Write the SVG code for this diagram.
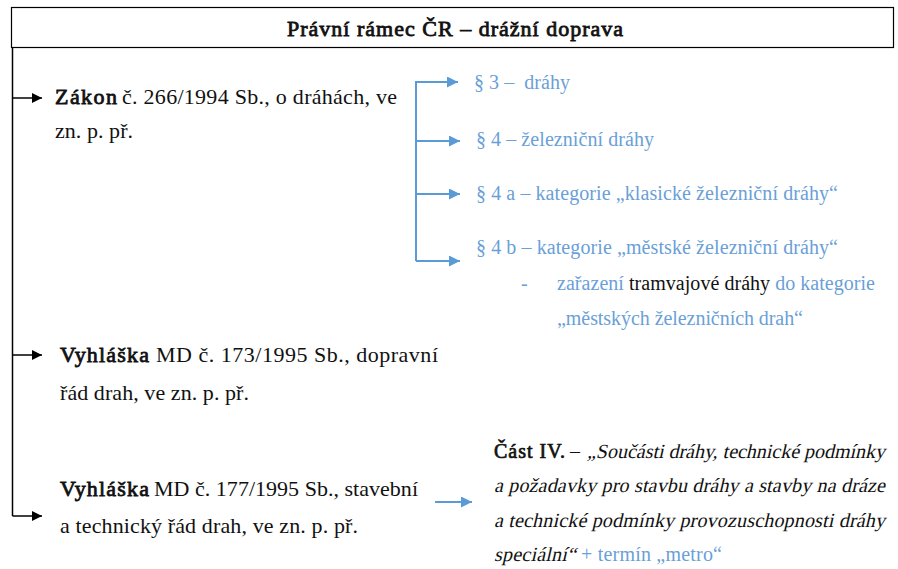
<svg xmlns="http://www.w3.org/2000/svg" width="898" height="569" viewBox="0 0 898 569">
<defs>
  <marker id="ab" viewBox="0 0 10 10" refX="10" refY="5" markerWidth="13" markerHeight="10" markerUnits="userSpaceOnUse" orient="auto">
    <path d="M0,0 L10,5 L0,10 z" fill="#000"/>
  </marker>
  <marker id="au" viewBox="0 0 10 10" refX="10" refY="5" markerWidth="14" markerHeight="11" markerUnits="userSpaceOnUse" orient="auto">
    <path d="M0,0 L10,5 L0,10 z" fill="#5b9bd5"/>
  </marker>
</defs>
<rect width="898" height="569" fill="#fff"/>

<g id="title">
  <rect x="11.5" y="7.5" width="882" height="40" fill="#fff" stroke="#000" stroke-width="1.2"/>
  <text x="455" y="36" text-anchor="middle" font-family="Liberation Serif, serif" font-size="22" fill="#111" stroke="#111" stroke-width="0.8" textLength="336">Právní rámec ČR – drážní doprava</text>
</g>

<g id="connectors" fill="none">
  <g stroke="#000" stroke-width="1.5">
    <path d="M12.5,48 V516"/>
    <path d="M12.5,98 H42" marker-end="url(#ab)"/>
    <path d="M12.5,355 H42" marker-end="url(#ab)"/>
    <path d="M12.5,516 H42" marker-end="url(#ab)"/>
  </g>
  <g stroke="#5b9bd5" stroke-width="2">
    <path d="M416,261 V82 H458" marker-end="url(#au)"/>
    <path d="M416,141 H460" marker-end="url(#au)"/>
    <path d="M416,194 H460" marker-end="url(#au)"/>
    <path d="M416,261 H460" marker-end="url(#au)"/>
    <path d="M435,502 H472" marker-end="url(#au)"/>
  </g>
</g>

<g id="zakon" font-family="Liberation Serif, serif" font-size="22" fill="#111">
  <text x="55" y="104" textLength="62" stroke="#111" stroke-width="0.8">Zákon</text>
  <text x="122" y="104" textLength="275">č. 266/1994 Sb., o dráhách, ve</text>
  <text x="55" y="138" textLength="78">zn. p. př.</text>
</g>

<g id="paragraphs" font-family="Liberation Serif, serif" font-size="20" fill="#6a9fd8">
  <g id="par3"><text x="474" y="89" xml:space="preserve" textLength="96">§ 3 –  dráhy</text></g>
  <g id="par4"><text x="476" y="146" textLength="178">§ 4 – železniční dráhy</text></g>
  <g id="par4a"><text x="476" y="200" textLength="362">§ 4 a – kategorie „klasické železniční dráhy“</text></g>
  <g id="par4b">
    <text x="476" y="254" textLength="362">§ 4 b – kategorie „městské železniční dráhy“</text>
    <text x="521" y="290">-</text>
    <text x="557" y="290" textLength="318">zařazení <tspan fill="#111">tramvajové dráhy</tspan> do kategorie</text>
    <text x="557" y="325" textLength="246">„městských železničních drah“</text>
  </g>
</g>

<g id="vyhlaska173" font-family="Liberation Serif, serif" font-size="22" fill="#111">
  <text x="60" y="362" textLength="89" stroke="#111" stroke-width="0.8">Vyhláška</text>
  <text x="156" y="362" textLength="282">MD č. 173/1995 Sb., dopravní</text>
  <text x="60" y="400" textLength="189">řád drah, ve zn. p. př.</text>
</g>

<g id="vyhlaska177" font-family="Liberation Serif, serif" font-size="22" fill="#111">
  <text x="60" y="496" textLength="89" stroke="#111" stroke-width="0.8">Vyhláška</text>
  <text x="154" y="496" textLength="264">MD č. 177/1995 Sb., stavební</text>
  <text x="60" y="533" textLength="298">a technický řád drah, ve zn. p. př.</text>
</g>

<g id="cast4" font-family="Liberation Serif, serif" font-size="20" fill="#111">
  <text x="494" y="458" textLength="71" stroke="#111" stroke-width="0.7">Část IV.</text>
  <text x="570" y="458">–</text>
  <text transform="translate(587,458) skewX(-13)" x="0" y="0" textLength="298">„Součásti dráhy, technické podmínky</text>
  <text transform="translate(494,492) skewX(-13)" x="0" y="0" textLength="391">a požadavky pro stavbu dráhy a stavby na dráze</text>
  <text transform="translate(494,527) skewX(-13)" x="0" y="0" textLength="391">a technické podmínky provozuschopnosti dráhy</text>
  <text transform="translate(494,561) skewX(-13)" x="0" y="0" textLength="82">speciální“</text>
  <text x="581" y="561" fill="#6a9fd8" textLength="141">+ termín „metro“</text>
</g>
</svg>
